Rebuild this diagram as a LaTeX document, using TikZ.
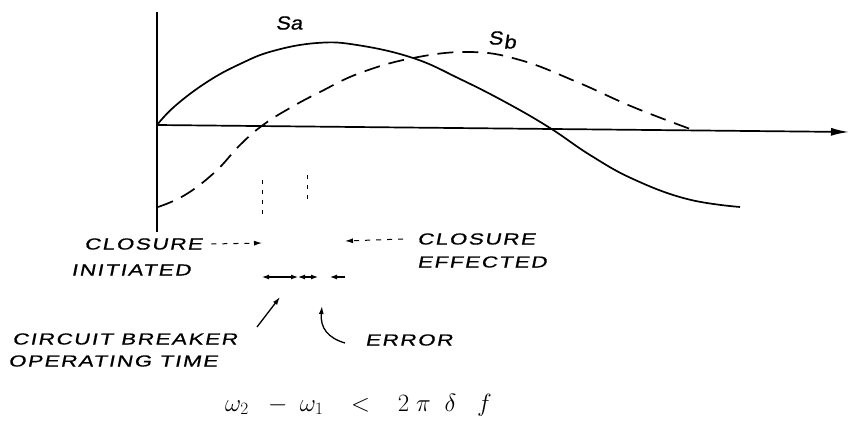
\documentclass[tikz,border=0pt]{standalone}
\usepackage{fontspec}
\usetikzlibrary{arrows.meta}
\newfontfamily\hand[FakeSlant=0.2,FakeStretch=1.4,LetterSpace=10,FakeBold=0.6]{Liberation Sans}
\newfontfamily\handlbl[FakeSlant=0.15,FakeStretch=1.15,FakeBold=0.6]{Liberation Sans}
\begin{document}
\begin{tikzpicture}[x=1pt,y=-1pt,
  axisline/.style={line width=1.7pt},
  solidcurve/.style={line width=1.7pt},
  dashcurve/.style={line width=1.7pt,dash pattern=on 16pt off 9pt},
  guide/.style={line width=1pt,dash pattern=on 4pt off 6pt},
  lbl/.style={font=\hand\fontsize{16}{18}\selectfont,inner sep=0pt,align=left},
  curvelbl/.style={font=\handlbl\fontsize{19}{20}\selectfont,inner sep=0pt},
  ptr/.style={line width=1.3pt,-{Latex[length=8pt,width=5pt]}},
  dashptr/.style={line width=1pt,dash pattern=on 5pt off 6pt,-{Latex[length=8pt,width=5pt]}},
  dim/.style={line width=1.2pt,{Latex[length=7pt,width=5pt]}-{Latex[length=7pt,width=5pt]}}
]
\useasboundingbox (0,0) rectangle (850,425);
% axes
\coordinate (O) at (157,125);
\coordinate (ytop) at (157,12);
\coordinate (ybot) at (157,232);
\coordinate (xend) at (849,132);
\draw[axisline] (ybot) -- (ytop);
\draw[axisline,-{Latex[length=18pt,width=8pt]}] (O) -- (xend);
% Sa (solid)
\draw[solidcurve] plot[smooth,tension=0.7] coordinates {(157,125) (175,106) (207,82) (240,64) (273,51) (317,43) (357,45) (413,58) (460,79) (507,103) (550,128) (590,155) (633,179) (687,199) (740,207)};
% Sb (dashed)
\draw[dashcurve] plot[smooth,tension=0.7] coordinates {(158,207) (185,195) (215,172) (240,145) (263,125) (290,108) (320,92) (360,73) (413,58) (470,52) (520,60) (577,82) (633,107) (693,130)};
% curve labels
\node[curvelbl] (sa) at (289,23) {Sa};
\node[curvelbl] (sb) at (502,40) {S\kern1pt\raisebox{-4pt}{b}};
% guide lines
\coordinate (g1a) at (262,180);
\coordinate (g1b) at (262,217);
\coordinate (g2a) at (307,175);
\coordinate (g2b) at (307,199);
\draw[guide] (g1a) -- (g1b);
\draw[guide] (g2a) -- (g2b);
% texts
\node[lbl,anchor=west] (ci1) at (84,244) {CLOSURE};
\node[lbl,anchor=west] (ci2) at (71,270) {INITIATED};
\node[lbl,anchor=west] (ce1) at (417,239) {CLOSURE};
\node[lbl,anchor=west] (ce2) at (417,262) {EFFECTED};
\node[lbl,anchor=west] (cb1) at (12,339) {CIRCUIT BREAKER};
\node[lbl,anchor=west] (cb2) at (8,361) {OPERATING TIME};
\node[lbl,anchor=west] (err) at (365,340) {ERROR};
\node[inner sep=0pt,anchor=west,font=\fontsize{26}{28}\selectfont] (eq) at (225,405)
  {$\omega_{2}\;\;-\;\omega_{1}\;\;\;<\;\;\;2\;\pi\;\;\delta\;\;\; f$};
% closure arrows
\coordinate (tci) at (262,243);
\coordinate (tce) at (345,241);
\draw[dashptr] ([xshift=9pt]ci1.east) -- (tci);
\draw[dashptr] ([xshift=-14pt]ce1.west) -- (tce);
% dimension arrows
\coordinate (d1) at (262,277);
\coordinate (d2) at (298,277);
\coordinate (d3) at (318,277);
\coordinate (d4) at (330,277);
\coordinate (d5) at (345,277);
\draw[dim] (d1) -- (d2);
\draw[dim] (d2) -- (d3);
\draw[line width=1.2pt,{Latex[length=7pt,width=5pt]}-] (d4) -- (d5);
% pointers
\coordinate (cbtip) at (280,297);
\coordinate (cbtail) at (257,327);
\draw[ptr] (cbtail) -- (cbtip);
\coordinate (ertip) at (322,306);
\coordinate (ertail) at (345,343);
\draw[ptr] (ertail) .. controls (328,338) and (320,328) .. (ertip);
\end{tikzpicture}
\end{document}
